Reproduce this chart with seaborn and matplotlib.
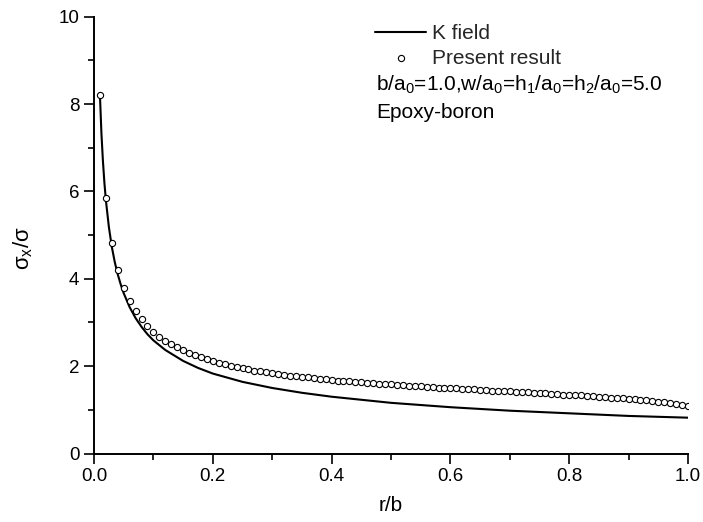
import matplotlib
matplotlib.use("Agg")
import matplotlib.pyplot as plt
import seaborn as sns
import pandas as pd
from matplotlib.ticker import MultipleLocator

# ---- data ----
k_r = [0.010, 0.0125, 0.015, 0.0175, 0.020, 0.025, 0.030, 0.035, 0.040, 0.045,
       0.050, 0.060, 0.070, 0.080, 0.090, 0.100, 0.120, 0.150, 0.175, 0.200,
       0.250, 0.300, 0.350, 0.400, 0.500, 0.600, 0.700, 0.800, 0.900, 1.000]
k_sigma = [8.20, 7.33, 6.70, 6.20, 5.80, 5.19, 4.73, 4.38, 4.10, 3.87,
           3.67, 3.35, 3.10, 2.90, 2.73, 2.59, 2.37, 2.12, 1.96, 1.83,
           1.64, 1.50, 1.39, 1.30, 1.16, 1.06, 0.98, 0.92, 0.86, 0.82]

present_r = [round(0.01 * i, 2) for i in range(1, 101)]
present_sigma = [8.20, 5.86, 4.82, 4.21, 3.80, 3.49, 3.26, 3.07, 2.92, 2.78,
                 2.67, 2.58, 2.50, 2.43, 2.36, 2.30, 2.25, 2.20, 2.16, 2.12,
                 2.08, 2.05, 2.01, 1.98, 1.95, 1.93, 1.90, 1.88, 1.86, 1.84,
                 1.82, 1.80, 1.78, 1.77, 1.75, 1.74, 1.72, 1.71, 1.70, 1.69,
                 1.67, 1.66, 1.65, 1.64, 1.63, 1.62, 1.61, 1.60, 1.59, 1.58,
                 1.57, 1.56, 1.55, 1.54, 1.54, 1.53, 1.52, 1.51, 1.50, 1.50,
                 1.49, 1.48, 1.47, 1.47, 1.46, 1.45, 1.44, 1.44, 1.43, 1.42,
                 1.41, 1.41, 1.40, 1.39, 1.38, 1.38, 1.37, 1.36, 1.35, 1.34,
                 1.33, 1.33, 1.32, 1.31, 1.30, 1.29, 1.28, 1.27, 1.26, 1.25,
                 1.24, 1.23, 1.22, 1.21, 1.19, 1.18, 1.16, 1.14, 1.12, 1.09]

x_ticks = [0.0, 0.2, 0.4, 0.6, 0.8, 1.0]
x_ticklabels = ["0.0", "0.2", "0.4", "0.6", "0.8", "1.0"]
y_ticks = [0, 2, 4, 6, 8, 10]
y_ticklabels = ["0", "2", "4", "6", "8", "10"]

label_k = "K field"
label_present = "Present result"
note_params = r"b/a$_\mathregular{0}$=1.0,w/a$_\mathregular{0}$=h$_\mathregular{1}$/a$_\mathregular{0}$=h$_\mathregular{2}$/a$_\mathregular{0}$=5.0"
note_material = "Epoxy-boron"
x_label = "r/b"
y_label = r"σ$_\mathregular{x}$/σ"

# ---- style ----
sns.set_theme(style="ticks")
plt.rcParams["font.family"] = ["Liberation Sans", "DejaVu Sans"]
plt.rcParams["mathtext.fontset"] = "custom"
plt.rcParams["mathtext.rm"] = "Liberation Sans"
plt.rcParams["mathtext.it"] = "Liberation Sans:italic"
plt.rcParams["mathtext.bf"] = "Liberation Sans:bold"

fig = plt.figure(figsize=(7.03, 5.22), dpi=100)
W, H = 703, 522
ax_left, ax_right, ax_bottom, ax_top = 94, 688, 453.5, 16.7
ax = fig.add_axes([ax_left / W, (H - ax_bottom) / H,
                   (ax_right - ax_left) / W, (ax_bottom - ax_top) / H])

k_df = pd.DataFrame({"r": k_r, "s": k_sigma})
p_df = pd.DataFrame({"r": present_r, "s": present_sigma})

sns.lineplot(data=k_df, x="r", y="s", ax=ax, color="black", linewidth=1.5,
             label=label_k, zorder=2, sort=True)
sns.scatterplot(data=p_df, x="r", y="s", ax=ax, marker="o", s=20,
                facecolor="white", edgecolor="black", linewidth=0.8,
                label=label_present, zorder=3)

ax.set_xlim(0, 1.0)
ax.set_ylim(0, 10)
ax.set_xticks(x_ticks)
ax.set_xticklabels(x_ticklabels)
ax.set_yticks(y_ticks)
ax.set_yticklabels(y_ticklabels)
ax.xaxis.set_minor_locator(MultipleLocator(0.1))
ax.yaxis.set_minor_locator(MultipleLocator(1))

for side in ["top", "right"]:
    ax.spines[side].set_visible(False)
for side in ["left", "bottom"]:
    ax.spines[side].set_linewidth(1.4)
    ax.spines[side].set_color("black")

ax.tick_params(which="major", direction="out", length=7, width=1.2,
               labelsize=13.5, pad=3.5, colors="black")
ax.tick_params(which="minor", direction="out", length=4, width=1.2,
               colors="black")

ax.set_xlabel(x_label, fontsize=15, color="black")
ax.set_ylabel(y_label, fontsize=16, color="black")
ax.xaxis.set_label_coords(0.5, -(496 - ax_bottom) / (ax_bottom - ax_top))
ax.yaxis.set_label_coords((23 - ax_left) / (ax_right - ax_left),
                          (ax_bottom - 248) / (ax_bottom - ax_top))
ax.yaxis.label.set_va("center")

leg = ax.legend(loc="upper left",
                bbox_to_anchor=(375 / W, 1 - 24 / H),
                bbox_transform=fig.transFigure,
                frameon=False, fontsize=15, handlelength=2.45,
                handletextpad=0.3, labelspacing=0.28, borderpad=0,
                borderaxespad=0, markerscale=1.0)

fig.text(376 / W, 1 - 85 / H, note_params, fontsize=15, va="center",
         ha="left", color="black")
fig.text(376 / W, 1 - 112 / H, note_material, fontsize=15, va="center",
         ha="left", color="black")

fig.savefig("out.png", dpi=100)
